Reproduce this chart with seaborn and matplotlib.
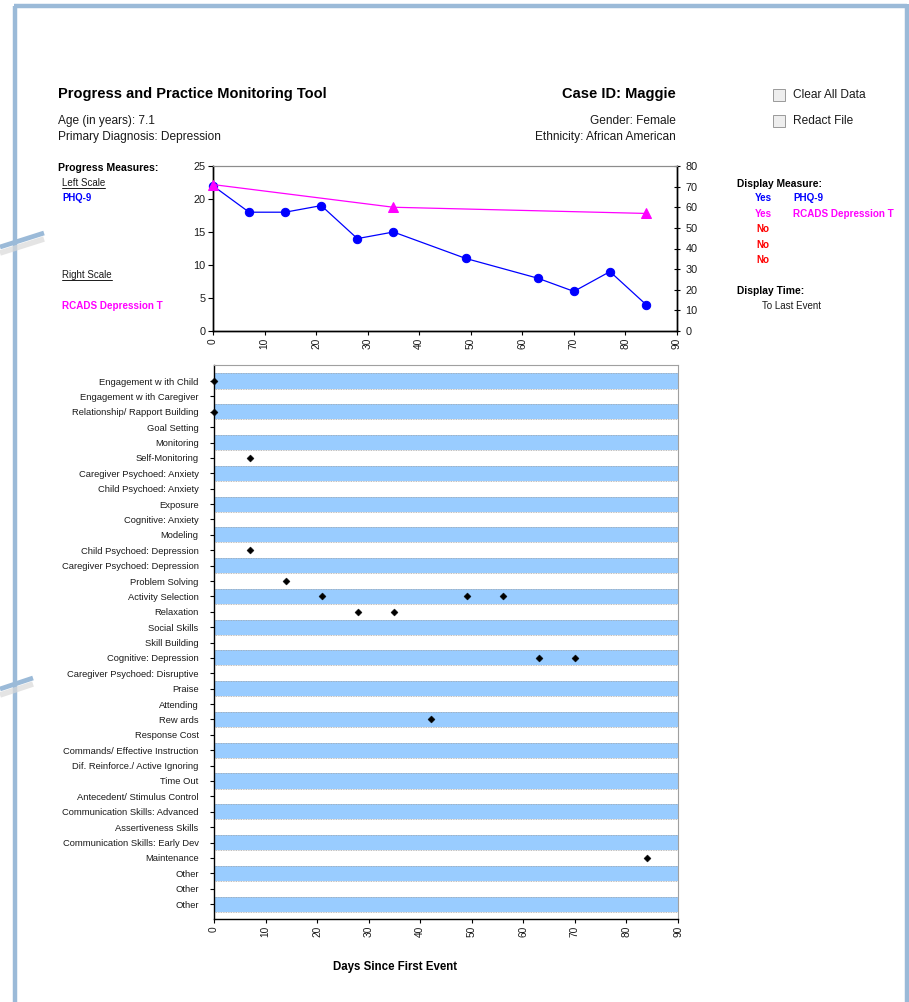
import numpy as np
import pandas as pd
import matplotlib
matplotlib.use("Agg")
import matplotlib.pyplot as plt
from matplotlib.patches import Rectangle
from matplotlib.lines import Line2D
import seaborn as sns

sns.set_theme(style="white")
plt.rcParams["font.family"] = ["Liberation Sans", "DejaVu Sans"]

# ---- progress measures ----
phq_days = [0, 7, 14, 21, 28, 35, 49, 63, 70, 77, 84]
phq_scores = [22, 18, 18, 19, 14, 15, 11, 8, 6, 9, 4]
rcads_days = [0, 35, 84]
rcads_scores = [71, 60, 57]

# ---- practice elements ----
practice_elements = [
    "Engagement w ith Child", "Engagement w ith Caregiver", "Relationship/ Rapport Building",
    "Goal Setting", "Monitoring", "Self-Monitoring", "Caregiver Psychoed: Anxiety",
    "Child Psychoed: Anxiety", "Exposure", "Cognitive: Anxiety", "Modeling",
    "Child Psychoed: Depression", "Caregiver Psychoed: Depression", "Problem Solving",
    "Activity Selection", "Relaxation", "Social Skills", "Skill Building",
    "Cognitive: Depression", "Caregiver Psychoed: Disruptive", "Praise", "Attending",
    "Rew ards", "Response Cost", "Commands/ Effective Instruction",
    "Dif. Reinforce./ Active Ignoring", "Time Out", "Antecedent/ Stimulus Control",
    "Communication Skills: Advanced", "Assertiveness Skills",
    "Communication Skills: Early Dev", "Maintenance", "Other", "Other", "Other",
]
event_element = [0, 2, 5, 11, 13, 14, 14, 14, 15, 15, 18, 18, 22, 31]
event_day = [0, 0, 7, 7, 14, 21, 49, 56, 28, 35, 63, 70, 42, 84]

day_ticks = list(range(0, 91, 10))
left_ticks = list(range(0, 26, 5))
right_ticks = list(range(0, 81, 10))

W, H = 909, 1002
fig = plt.figure(figsize=(W / 100, H / 100), dpi=100)
fig.patch.set_facecolor("white")

BLUE = "#0000FF"
MAGENTA = "#FF00FF"
RED = "#FF0000"
FRAME = "#9BBAD8"
GRID_GREY = "#A6A6A6"


def fx(px):
    return px / W


def fy(py):
    return 1 - py / H


def label(px, py, s, **kw):
    kw.setdefault("fontsize", 7.2)
    kw.setdefault("color", "#1a1a1a")
    return fig.text(fx(px), fy(py), s, va="center", **kw)


# page frame
fig.add_artist(Line2D([fx(15), fx(15)], [fy(6), fy(1002)], color=FRAME, lw=3.2, solid_capstyle="butt"))
fig.add_artist(Line2D([fx(13.8), fx(907)], [fy(6), fy(6)], color=FRAME, lw=3.2, solid_capstyle="butt"))
fig.add_artist(Line2D([fx(907), fx(907)], [fy(4.4), fy(1002)], color=FRAME, lw=3.2, solid_capstyle="butt"))
# connector strokes on the left margin
for (x0, y0, x1, y1) in [(0, 247, 44, 233), (0, 689, 33, 678)]:
    fig.add_artist(Line2D([fx(x0), fx(x1)], [fy(y0 + 6), fy(y1 + 6)],
                          color="#d9d9d9", lw=4, alpha=0.7, solid_capstyle="butt"))
    fig.add_artist(Line2D([fx(x0), fx(x1)], [fy(y0), fy(y1)],
                          color=FRAME, lw=3.4, solid_capstyle="butt"))

# header
label(58, 94, "Progress and Practice Monitoring Tool", fontsize=10.5, fontweight="bold", color="black")
label(676, 94, "Case ID: Maggie", fontsize=10.5, fontweight="bold", color="black", ha="right")
label(58, 121, "Age (in years): 7.1", fontsize=8.6)
label(58, 137, "Primary Diagnosis: Depression", fontsize=8.6)
label(676, 121, "Gender: Female", fontsize=8.6, ha="right")
label(676, 137, "Ethnicity: African American", fontsize=8.6, ha="right")

for py, txt in [(95, "Clear All Data"), (121, "Redact File")]:
    fig.add_artist(Rectangle((fx(773), fy(py + 6)), 12 / W, 12 / H,
                             facecolor="#eeeeee", edgecolor="#9a9a9a", lw=0.7))
    label(793, py, txt, fontsize=8.6)

# side legends
label(58, 168, "Progress Measures:", fontsize=7.6, fontweight="bold", color="black")
underlined = [label(62, 183, "Left Scale", fontsize=7.0), label(62, 275, "Right Scale", fontsize=7.0)]
label(62, 198, "PHQ-9", fontsize=6.9, fontweight="bold", color=BLUE)
label(62, 306, "RCADS Depression T", fontsize=7.1, fontweight="bold", color=MAGENTA)

label(737, 184, "Display Measure:", fontsize=7.4, fontweight="bold", color="black")
label(763, 198, "Yes", fontsize=7.1, fontweight="bold", color=BLUE, ha="center")
label(793, 198, "PHQ-9", fontsize=7.1, fontweight="bold", color=BLUE)
label(763, 214, "Yes", fontsize=7.1, fontweight="bold", color=MAGENTA, ha="center")
label(793, 214, "RCADS Depression T", fontsize=7.1, fontweight="bold", color=MAGENTA)
for py in (229, 245, 260):
    label(763, py, "No", fontsize=7.1, fontweight="bold", color=RED, ha="center")
label(737, 291, "Display Time:", fontsize=7.4, fontweight="bold", color="black")
label(762, 306, "To Last Event", fontsize=7.0)

# ---- top chart: progress measures ----
ax = fig.add_axes([fx(213), fy(331), 464 / W, 165 / H])
ax2 = ax.twinx()
phq = pd.DataFrame({"day": phq_days, "score": phq_scores})
rc = pd.DataFrame({"day": rcads_days, "score": rcads_scores})
sns.lineplot(data=phq, x="day", y="score", ax=ax, color=BLUE, lw=0.9,
             marker="o", markersize=6, markeredgecolor=BLUE, zorder=3, clip_on=False)
sns.lineplot(data=rc, x="day", y="score", ax=ax2, color=MAGENTA, lw=0.9,
             marker="^", markersize=6.5, markeredgecolor=MAGENTA, zorder=3, clip_on=False)
ax.set_xlim(0, 90)
ax.set_ylim(0, 25)
ax2.set_ylim(0, 80)
ax.set_xticks(day_ticks)
ax.set_yticks(left_ticks)
ax2.set_yticks(right_ticks)
ax.set_xlabel("")
ax.set_ylabel("")
ax2.set_ylabel("")
ax.tick_params(axis="x", labelsize=7.3, rotation=90, length=3, width=0.8, color="black",
               direction="out", pad=2, labelcolor="#1a1a1a", bottom=True)
ax.tick_params(axis="y", labelsize=7.8, length=3.5, width=0.8, color="black",
               direction="out", pad=2, labelcolor="#1a1a1a", left=True)
ax2.tick_params(axis="y", labelsize=7.8, length=4, width=0.8, color="black",
                direction="inout", pad=4, labelcolor="#1a1a1a", right=True)
for a in (ax, ax2):
    for side in ("left", "bottom", "right"):
        a.spines[side].set_color("black")
        a.spines[side].set_linewidth(1.0)
    a.spines["top"].set_color("#8c8c8c")
    a.spines["top"].set_linewidth(0.8)
    a.set_facecolor("none")
ax2.set_zorder(ax.get_zorder() + 1)

# ---- bottom chart: practice elements ----
bx = fig.add_axes([fx(214), fy(919), 464 / W, 554 / H])
rows = np.arange(len(practice_elements))
band_rows = rows[rows % 2 == 0]
bx.barh(band_rows, [90] * len(band_rows), height=0.98, left=0,
        color="#99CCFF", edgecolor="none", zorder=1)
bx.hlines(np.concatenate([band_rows - 0.49, band_rows + 0.49]), 0, 90,
          colors=GRID_GREY, linestyles=(0, (1, 1)), lw=0.6, zorder=2)
events = pd.DataFrame({"day": event_day, "row": event_element})
sns.scatterplot(data=events, x="day", y="row", ax=bx, marker="D", s=13,
                color="black", edgecolor="black", zorder=4, clip_on=False, legend=False)
bx.set_xlim(0, 90)
bx.set_ylim(len(practice_elements) - 0.03, -1.04)
bx.set_yticks(rows)
bx.set_yticklabels(practice_elements)
bx.set_xticks(day_ticks)
bx.set_xlabel("")
bx.set_ylabel("")
bx.tick_params(axis="y", labelsize=6.75, length=3, width=0.8, color="black",
               direction="out", pad=8, labelcolor="#1a1a1a", left=True)
bx.tick_params(axis="x", labelsize=7.3, rotation=90, length=3, width=0.8, color="black",
               direction="out", pad=2, labelcolor="#1a1a1a", bottom=True)
for side in ("left", "bottom"):
    bx.spines[side].set_color("black")
    bx.spines[side].set_linewidth(1.0)
for side in ("top", "right"):
    bx.spines[side].set_color("#a0a0a0")
    bx.spines[side].set_linewidth(0.8)

label(395, 967, "Days Since First Event", fontsize=8.3, fontweight="bold", color="black", ha="center")

# underline the scale headings
fig.canvas.draw()
renderer = fig.canvas.get_renderer()
for t in underlined:
    bb = t.get_window_extent(renderer)
    inv = fig.transFigure.inverted()
    (x0, y0), (x1, _) = inv.transform([(bb.x0, bb.y0), (bb.x1, bb.y1)])
    fig.add_artist(Line2D([x0, x1], [y0 + 0.5 / H, y0 + 0.5 / H], color="#1a1a1a", lw=0.7))

fig.savefig("out.png", dpi=100)
